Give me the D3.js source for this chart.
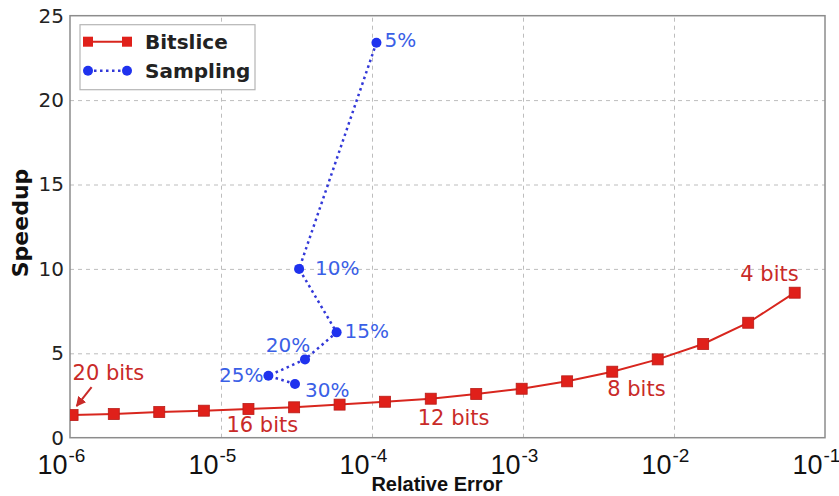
<!DOCTYPE html>
<html>
<head>
<meta charset="utf-8">
<script src="https://d3js.org/d3.v7.min.js"></script>
<style>
  body { margin: 0; background: #fff; }
  svg { display: block; }
</style>
</head>
<body>
<div id="chart"></div>
<script>
// chart data
var bitsLabels = ["20 bits", "16 bits", "12 bits", "8 bits", "4 bits"];
var bitsError = [1.04e-6, 1.95e-6, 3.9e-6, 7.7e-6, 1.52e-5, 3.05e-5, 6.1e-5, 1.22e-4,
                 2.45e-4, 4.9e-4, 9.8e-4, 1.96e-3, 3.9e-3, 7.8e-3, 1.56e-2, 3.1e-2, 6.3e-2];
var bitsSpeedup = [1.34, 1.40, 1.52, 1.60, 1.70, 1.80, 1.96, 2.13,
                   2.31, 2.59, 2.90, 3.34, 3.91, 4.64, 5.55, 6.81, 8.59];

var sampLabels = ["5%", "10%", "15%", "20%", "25%", "30%"];
var sampError = [1.07e-4, 3.29e-5, 5.83e-5, 3.6e-5, 2.06e-5, 3.09e-5];
var sampSpeedup = [23.4, 10.0, 6.24, 4.64, 3.67, 3.18];

var yTicks = [0, 5, 10, 15, 20, 25];
var xTicks = [1e-6, 1e-5, 1e-4, 1e-3, 1e-2, 1e-1];
var xTickExp = ["-6", "-5", "-4", "-3", "-2", "-1"];

// Define SVG area dimensions
var svgWidth = 839;
var svgHeight = 496;
var margin = { top: 15.7, right: 14, bottom: 58.3, left: 70 };
var chartWidth = svgWidth - margin.left - margin.right;
var chartHeight = svgHeight - margin.top - margin.bottom;

var red = "#d8261e";
var redText = "#c92a28";
var blue = "#1f32ee";
var blueText = "#3a60e6";
var font = "'DejaVu Sans', sans-serif";
var tickFont = "'Liberation Sans', Arial, sans-serif";

var svg = d3.select("#chart").append("svg")
  .attr("width", svgWidth)
  .attr("height", svgHeight);

var chartGroup = svg.append("g")
  .attr("transform", `translate(${margin.left}, ${margin.top})`);

var xScale = d3.scaleLog().domain([1e-6, 1e-1]).range([0, chartWidth]);
var yScale = d3.scaleLinear().domain([0, 25]).range([chartHeight, 0]);

svg.append("defs").append("clipPath").attr("id", "plotclip")
  .append("rect").attr("width", chartWidth).attr("height", chartHeight);

// grid lines
chartGroup.append("g")
  .call(d3.axisLeft(yScale).tickValues(yTicks.slice(1, 5)).tickSize(-chartWidth).tickFormat(""))
  .call(g => g.select(".domain").remove())
  .selectAll("line")
  .attr("stroke", "#bdbdbd")
  .attr("stroke-dasharray", "4,4");

chartGroup.append("g")
  .attr("transform", `translate(0, ${chartHeight})`)
  .call(d3.axisBottom(xScale).tickValues(xTicks.slice(1, 5)).tickSize(-chartHeight).tickFormat(""))
  .call(g => g.select(".domain").remove())
  .selectAll("line")
  .attr("stroke", "#bdbdbd")
  .attr("stroke-dasharray", "4,4");

// y tick labels
var yAxis = chartGroup.append("g")
  .call(d3.axisLeft(yScale).tickValues(yTicks).tickSize(0).tickPadding(6));
yAxis.select(".domain").remove();
yAxis.selectAll("text")
  .attr("font-family", font)
  .attr("font-size", "20px")
  .attr("fill", "#222");

// x tick labels as 10^n, the "10" ends just left of the grid line
var xAxis = chartGroup.append("g")
  .attr("transform", `translate(0, ${chartHeight})`)
  .call(d3.axisBottom(xScale).tickValues(xTicks).tickSize(0).tickFormat(""));
xAxis.select(".domain").remove();
xAxis.selectAll(".tick").append("text")
  .attr("y", 36)
  .attr("x", -33)
  .attr("text-anchor", "start")
  .attr("font-family", tickFont)
  .attr("fill", "#111")
  .each(function(d, i) {
    var t = d3.select(this);
    t.append("tspan").attr("font-size", "27px").text("10");
    t.append("tspan").attr("font-size", "19px").attr("dy", -12).attr("dx", 1).text(xTickExp[i]);
  });

// frame
chartGroup.append("rect")
  .attr("width", chartWidth)
  .attr("height", chartHeight)
  .attr("fill", "none")
  .attr("stroke", "#8c8c8c")
  .attr("stroke-width", 1.5);

var plot = chartGroup.append("g").attr("clip-path", "url(#plotclip)");

var bits = bitsError.map((e, i) => ({ x: e, y: bitsSpeedup[i] }));
var samp = sampError.map((e, i) => ({ x: e, y: sampSpeedup[i], label: sampLabels[i] }));

var line = d3.line().x(d => xScale(d.x)).y(d => yScale(d.y));

// Bitslice series
plot.append("path")
  .datum(bits)
  .attr("d", line)
  .attr("fill", "none")
  .attr("stroke", red)
  .attr("stroke-width", 2);

plot.append("g").selectAll("rect")
  .data(bits)
  .enter()
  .append("rect")
  .attr("x", d => xScale(d.x) - 5.5)
  .attr("y", d => yScale(d.y) - 5.5)
  .attr("width", 11)
  .attr("height", 11)
  .attr("fill", "#e0201a")
  .attr("stroke", "#b81c18")
  .attr("stroke-width", 0.8);

// Sampling series
plot.append("path")
  .datum(samp)
  .attr("d", line)
  .attr("fill", "none")
  .attr("stroke", "#3238d8")
  .attr("stroke-width", 2.5)
  .attr("stroke-dasharray", "2.5,3.5");

plot.append("g").selectAll("circle")
  .data(samp)
  .enter()
  .append("circle")
  .attr("cx", d => xScale(d.x))
  .attr("cy", d => yScale(d.y))
  .attr("r", 5)
  .attr("fill", blue);

// sampling labels, offset from their points
var sampPlace = [
  { dx: 8, dy: 4, anchor: "start" },
  { dx: 16, dy: 6, anchor: "start" },
  { dx: 8, dy: 6, anchor: "start" },
  { dx: -17, dy: -7, anchor: "middle" },
  { dx: -5, dy: 6, anchor: "end" },
  { dx: 10, dy: 13, anchor: "start" }
];
chartGroup.append("g").selectAll("text")
  .data(samp)
  .enter()
  .append("text")
  .attr("x", (d, i) => xScale(d.x) + sampPlace[i].dx)
  .attr("y", (d, i) => yScale(d.y) + sampPlace[i].dy)
  .attr("text-anchor", (d, i) => sampPlace[i].anchor)
  .attr("font-family", font)
  .attr("font-size", "20px")
  .attr("fill", blueText)
  .text(d => d.label);

// bitslice labels, tied to a point index
var bitsPlace = [
  { i: 0, dx: 0, dy: -35, anchor: "start" },
  { i: 4, dx: -22, dy: 23, anchor: "start" },
  { i: 8, dx: -13, dy: 26, anchor: "start" },
  { i: 12, dx: -5, dy: 24, anchor: "start" },
  { i: 16, dx: 4, dy: -12, anchor: "end" }
];
chartGroup.append("g").selectAll("text")
  .data(bitsLabels)
  .enter()
  .append("text")
  .attr("x", (d, k) => xScale(bits[bitsPlace[k].i].x) + bitsPlace[k].dx)
  .attr("y", (d, k) => yScale(bits[bitsPlace[k].i].y) + bitsPlace[k].dy)
  .attr("text-anchor", (d, k) => bitsPlace[k].anchor)
  .attr("font-family", font)
  .attr("font-size", "21px")
  .attr("fill", redText)
  .text(d => d);

// arrow from "20 bits" to the first point
svg.select("defs").append("marker")
  .attr("id", "arrowhead")
  .attr("viewBox", "0 0 10 10")
  .attr("refX", 9).attr("refY", 5)
  .attr("markerWidth", 5).attr("markerHeight", 5)
  .attr("orient", "auto")
  .append("path")
  .attr("d", "M0,0 L10,5 L0,10 z")
  .attr("fill", redText);

var p0x = xScale(bits[0].x), p0y = yScale(bits[0].y);
chartGroup.append("line")
  .attr("x1", p0x + 19).attr("y1", p0y - 28)
  .attr("x2", p0x + 4).attr("y2", p0y - 9)
  .attr("stroke", redText)
  .attr("stroke-width", 2)
  .attr("marker-end", "url(#arrowhead)");

// legend
var legend = chartGroup.append("g").attr("transform", "translate(10, 9)");
legend.append("rect")
  .attr("width", 175)
  .attr("height", 65)
  .attr("fill", "#fff")
  .attr("stroke", "#b5b5b5")
  .attr("stroke-width", 1.2);

legend.append("line")
  .attr("x1", 8).attr("x2", 47).attr("y1", 17).attr("y2", 17)
  .attr("stroke", red).attr("stroke-width", 2);
legend.selectAll(".lsq").data([8, 47]).enter().append("rect")
  .attr("x", d => d - 5).attr("y", 12).attr("width", 10).attr("height", 10)
  .attr("fill", "#e0201a");
legend.append("line")
  .attr("x1", 8).attr("x2", 47).attr("y1", 46).attr("y2", 46)
  .attr("stroke", "#3238d8").attr("stroke-width", 2.5)
  .attr("stroke-dasharray", "2.5,3.5");
legend.selectAll(".lci").data([8, 47]).enter().append("circle")
  .attr("cx", d => d).attr("cy", 46).attr("r", 5)
  .attr("fill", blue);

legend.selectAll(".ltx").data(["Bitslice", "Sampling"]).enter().append("text")
  .attr("x", 65)
  .attr("y", (d, i) => 24 + i * 29)
  .attr("font-family", font)
  .attr("font-weight", "bold")
  .attr("font-size", "20px")
  .attr("fill", "#222")
  .text(d => d);

// axis titles
svg.append("text")
  .attr("transform", "translate(28, 223) rotate(-90)")
  .attr("text-anchor", "middle")
  .attr("font-family", font)
  .attr("font-weight", "bold")
  .attr("font-size", "22px")
  .attr("fill", "#111")
  .text("Speedup");

svg.append("text")
  .attr("x", 437)
  .attr("y", 491)
  .attr("text-anchor", "middle")
  .attr("font-family", tickFont)
  .attr("font-weight", "bold")
  .attr("font-size", "20px")
  .attr("fill", "#111")
  .text("Relative Error");
</script>
</body>
</html>
